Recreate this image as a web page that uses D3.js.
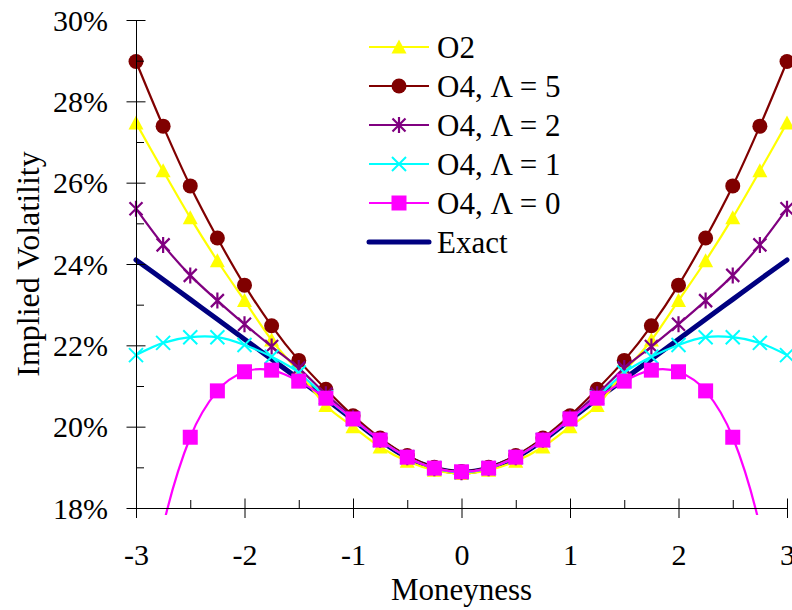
<!DOCTYPE html>
<html>
<head>
<meta charset="utf-8">
<script src="https://cdn.jsdelivr.net/npm/d3@7"></script>
<style>
  body { margin: 0; background: #fff; }
  svg { display: block; }
  text { font-family: "Liberation Serif", "Times New Roman", serif; fill: #000; }
</style>
</head>
<body>
<svg id="chart" width="792" height="610"></svg>
<script>
// Moneyness grid
const moneyness = [-3, -2.75, -2.5, -2.25, -2, -1.75, -1.5, -1.25, -1, -0.75, -0.5, -0.25, 0,
                   0.25, 0.5, 0.75, 1, 1.25, 1.5, 1.75, 2, 2.25, 2.5, 2.75, 3];

// Implied volatility (%) for each approximation
const o2 = [27.47, 26.29, 25.14, 24.08, 23.10, 22.13, 21.35, 20.52, 20.00, 19.50, 19.15, 18.93, 18.85,
            18.93, 19.15, 19.50, 20.00, 20.52, 21.35, 22.13, 23.10, 24.08, 25.14, 26.29, 27.47];
const o4L5 = [28.98, 27.39, 25.92, 24.64, 23.48, 22.48, 21.63, 20.92, 20.27, 19.72, 19.29, 19.00, 18.90,
              19.00, 19.29, 19.72, 20.27, 20.92, 21.63, 22.48, 23.48, 24.64, 25.92, 27.39, 28.98];
const o4L2 = [25.36, 24.47, 23.72, 23.10, 22.52, 21.97, 21.44, 20.80, 20.22, 19.68, 19.25, 18.98, 18.88,
              18.98, 19.25, 19.68, 20.22, 20.80, 21.44, 21.97, 22.52, 23.10, 23.72, 24.47, 25.36];
const o4L1 = [21.76, 22.06, 22.20, 22.20, 22.01, 21.72, 21.33, 20.72, 20.18, 19.67, 19.25, 18.98, 18.88,
              18.98, 19.25, 19.67, 20.18, 20.72, 21.33, 21.72, 22.01, 22.20, 22.20, 22.06, 21.76];
const o4L0 = [14.00, 17.55, 19.74, 20.88, 21.35, 21.39, 21.12, 20.70, 20.19, 19.67, 19.25, 18.98, 18.89,
              18.98, 19.25, 19.67, 20.19, 20.70, 21.12, 21.39, 21.35, 20.88, 19.74, 17.55, 14.00];
const exact = [24.10, 23.62, 23.13, 22.64, 22.15, 21.66, 21.17, 20.68, 20.17, 19.66, 19.24, 18.98, 18.88,
               18.98, 19.24, 19.66, 20.17, 20.68, 21.17, 21.66, 22.15, 22.64, 23.13, 23.62, 24.10];

const yMajorTicks = [18, 20, 22, 24, 26, 28, 30];
const yMinorTicks = [19, 21, 23, 25, 27, 29];
const xMajorTicks = [-3, -2, -1, 0, 1, 2, 3];
const xMinorTicks = [-2.5, -1.5, -0.5, 0.5, 1.5, 2.5];

const seriesList = [
  { name: "Exact",      values: exact, color: "#000080", width: 5,   marker: null },
  { name: "O2",         values: o2,    color: "#FFFF00", width: 2.2, marker: "triangle" },
  { name: "O4, Λ = 5",  values: o4L5,  color: "#800000", width: 2.2, marker: "circle" },
  { name: "O4, Λ = 2",  values: o4L2,  color: "#800080", width: 2.2, marker: "asterisk" },
  { name: "O4, Λ = 1",  values: o4L1,  color: "#00FFFF", width: 2.2, marker: "times" },
  { name: "O4, Λ = 0",  values: o4L0,  color: "#FF00FF", width: 2.2, marker: "square" }
];
const legendOrder = ["O2", "O4, Λ = 5", "O4, Λ = 2", "O4, Λ = 1", "O4, Λ = 0", "Exact"];

const svg = d3.select("#chart");
const FONT = 30;
const SERIF = '"Liberation Serif", "Times New Roman", serif';

const x = d3.scaleLinear().domain([-3, 3]).range([136, 787]);
const y = d3.scaleLinear().domain([18, 30]).range([508, 20]);

// Marker shapes
function drawMarker(g, type, color) {
  if (type === "triangle") {
    g.append("path").attr("d", "M0,-7.5L7.5,6.5L-7.5,6.5Z").attr("fill", color);
  } else if (type === "circle") {
    g.append("circle").attr("r", 7.5).attr("fill", color);
  } else if (type === "square") {
    g.append("rect").attr("x", -7.5).attr("y", -7.5).attr("width", 15).attr("height", 15).attr("fill", color);
  } else if (type === "asterisk") {
    g.append("path").attr("d", "M0,-8L0,8M-6.5,-6.5L6.5,6.5M-6.5,6.5L6.5,-6.5")
      .attr("stroke", color).attr("stroke-width", 2.2).attr("fill", "none");
  } else if (type === "times") {
    g.append("path").attr("d", "M-7,-7L7,7M-7,7L7,-7")
      .attr("stroke", color).attr("stroke-width", 2).attr("fill", "none");
  }
}

// Plot clip
svg.append("defs").append("clipPath").attr("id", "plotClip")
  .append("rect").attr("x", 120).attr("y", 5).attr("width", 680).attr("height", 510);

const plot = svg.append("g").attr("clip-path", "url(#plotClip)");

const line = d3.line()
  .x((d, i) => x(moneyness[i]))
  .y(d => y(d))
  .curve(d3.curveCatmullRom.alpha(0));

seriesList.forEach(s => {
  const g = plot.append("g");
  g.append("path")
    .datum(s.values)
    .attr("d", line)
    .attr("fill", "none")
    .attr("stroke", s.color)
    .attr("stroke-width", s.width)
    .attr("stroke-linejoin", "round")
    .attr("stroke-linecap", "round");
  if (s.marker) {
    s.values.forEach((v, i) => {
      const m = g.append("g").attr("transform", `translate(${x(moneyness[i])},${y(v)})`);
      drawMarker(m, s.marker, s.color);
    });
  }
});

// Y axis: major ticks cross the axis, minor ticks point inward
const yAxisG = svg.append("g").attr("transform", `translate(${x(-3)},0)`);
yAxisG.call(d3.axisLeft(y).tickValues(yMajorTicks).tickSize(9.5).tickSizeOuter(0)
  .tickFormat(d => d + "%"));
yAxisG.selectAll(".tick line").attr("x1", 9.5).attr("x2", -9.5).attr("stroke", "#000");
yAxisG.selectAll(".tick text").attr("x", -28).attr("dy", "0.34em");
yAxisG.select(".domain").attr("stroke", "#000");
const yMinorG = svg.append("g").attr("transform", `translate(${x(-3)},0)`);
yMinorG.call(d3.axisLeft(y).tickValues(yMinorTicks).tickSize(-8).tickFormat(""));
yMinorG.select(".domain").remove();

// X axis at 18%
const xAxisG = svg.append("g").attr("transform", `translate(0,${y(18)})`);
xAxisG.call(d3.axisBottom(x).tickValues(xMajorTicks).tickSize(10).tickSizeOuter(0)
  .tickFormat(d => (d < 0 ? "-" + Math.abs(d) : String(d))));
xAxisG.selectAll(".tick line").attr("y1", -9.5).attr("y2", 10).attr("stroke", "#000");
xAxisG.selectAll(".tick text").attr("y", 57).attr("dy", null);
xAxisG.select(".domain").attr("stroke", "#000");
const xMinorG = svg.append("g").attr("transform", `translate(0,${y(18)})`);
xMinorG.call(d3.axisBottom(x).tickValues(xMinorTicks).tickSize(-8).tickFormat(""));
xMinorG.select(".domain").remove();

svg.selectAll(".tick text").attr("fill", "#000")
  .style("font-family", SERIF).style("font-size", FONT + "px");

// Axis titles
svg.append("text")
  .attr("x", x(0)).attr("y", 600)
  .attr("text-anchor", "middle")
  .style("font-size", "31px")
  .text("Moneyness");
svg.append("text")
  .attr("transform", `translate(39,${(y(18) + y(30)) / 2}) rotate(-90)`)
  .attr("text-anchor", "middle")
  .style("font-size", "32px")
  .text("Implied Volatility");

// Legend
const legend = svg.append("g").attr("transform", "translate(369,47)");
legendOrder.forEach((name, i) => {
  const s = seriesList.find(d => d.name === name);
  const row = legend.append("g").attr("transform", `translate(0,${i * 39})`);
  row.append("line").attr("x1", 0).attr("x2", 60).attr("y1", 0).attr("y2", 0)
    .attr("stroke", s.color).attr("stroke-width", s.width)
    .attr("stroke-linecap", s.marker ? "butt" : "round");
  if (s.marker) {
    const m = row.append("g").attr("transform", "translate(30,0)");
    drawMarker(m, s.marker, s.color);
  }
  row.append("text").attr("x", 68).attr("y", 0).attr("dy", "0.34em")
    .style("font-size", "31px").text(name);
});
</script>
</body>
</html>
